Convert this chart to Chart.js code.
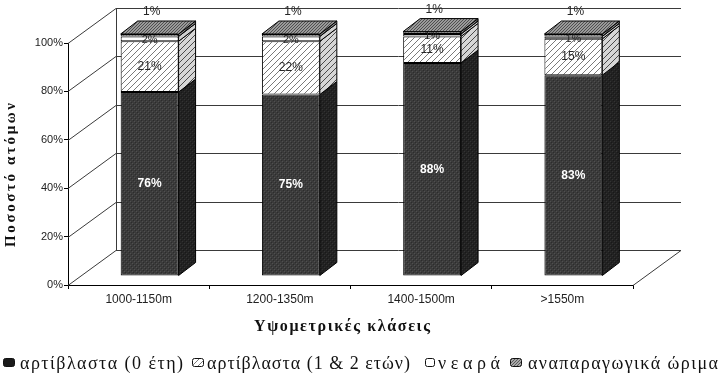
<!DOCTYPE html>
<html>
<head>
<meta charset="utf-8">
<script src="https://cdn.jsdelivr.net/npm/chart.js@4"></script>
<style>
  html, body { margin: 0; padding: 0; background: #fff; }
  #wrap { width: 718px; height: 377px; }
</style>
</head>
<body>
<div id="wrap"><canvas id="heightChart" width="718" height="377"></canvas></div>
<script>
const categories = ["1000-1150m", "1200-1350m", "1400-1500m", ">1550m"];
const seriesNames = ["αρτίβλαστα (0 έτη)", "αρτίβλαστα (1 & 2 ετών)", "νεαρά", "αναπαραγωγικά ώριμα"];
const seedlings0 = [76, 75, 88, 83];
const seedlings12 = [21, 22, 11, 15];
const young = [2, 2, 1, 1];
const mature = [1, 1, 1, 1];
const yTicks = [0, 20, 40, 60, 80, 100];
const xTitle = "Υψομετρικές κλάσεις";
const yTitle = "Ποσοστό ατόμων";

// small texture tiles so the bars look like the old print
function tile(w, h, draw) {
  const c = document.createElement("canvas");
  c.width = w; c.height = h;
  draw(c.getContext("2d"));
  return c.getContext("2d").createPattern(c, "repeat");
}
function darkTile(base, spot1, spot2) {
  return tile(4, 4, (g) => {
    g.fillStyle = base; g.fillRect(0, 0, 4, 4);
    g.fillStyle = spot1; g.fillRect(1, 0, 1, 1); g.fillRect(3, 2, 1, 1);
    g.fillStyle = spot2; g.fillRect(0, 3, 1, 1); g.fillRect(2, 1, 1, 1);
  });
}
function hatchTile(bg, line) {
  return tile(6, 6, (g) => {
    g.fillStyle = bg; g.fillRect(0, 0, 6, 6);
    g.strokeStyle = line; g.lineWidth = 1;
    g.beginPath();
    g.moveTo(0, 6); g.lineTo(6, 0);
    g.moveTo(-1, 1); g.lineTo(1, -1);
    g.moveTo(5, 7); g.lineTo(7, 5);
    g.stroke();
  });
}
function stippleTile(bg, dot) {
  return tile(3, 3, (g) => {
    g.fillStyle = bg; g.fillRect(0, 0, 3, 3);
    g.fillStyle = dot; g.fillRect(0, 0, 1, 1); g.fillRect(2, 1, 1, 1); g.fillRect(1, 2, 1, 1);
  });
}

const fronts = [darkTile("#3b3b3b", "#505050", "#2c2c2c"), hatchTile("#ffffff", "#7a7a7a"), "#ffffff", stippleTile("#a8a8a8", "#5a5a5a")];
const sides = [darkTile("#222222", "#333333", "#181818"), hatchTile("#d6d6d6", "#4a4a4a"), "#cfcfcf", stippleTile("#8a8a8a", "#3e3e3e")];
const topFace = stippleTile("#9a9a9a", "#4e4e4e");

const wall = { dx: 48, dy: -35 };     // back wall offset from the axis plane
const shift = { x: 11, y: -9 };       // bars stand a bit behind the axis plane
const bar3d = { x: 17, y: -13 };      // bar depth

// text stretched with letter spacing to the width it has in the print
function spacedText(ctx, text, x, y, width) {
  ctx.letterSpacing = "0px";
  const natural = ctx.measureText(text).width;
  const n = [...text].length;
  const sp = n > 1 ? Math.max(0, (width - natural) / (n - 1)) : 0;
  ctx.letterSpacing = sp.toFixed(2) + "px";
  ctx.fillText(text, x, y);
  ctx.letterSpacing = "0px";
}

// legend slots: marker left, text left, text width
const legendSlots = [[3, 20, 163], [192, 207, 203], [425, 438, 62], [510, 528, 190]];

const pseudo3d = {
  id: "pseudo3d",
  beforeDatasetsDraw(chart) {
    const { ctx, chartArea: a, scales: { y } } = chart;
    ctx.save();
    ctx.strokeStyle = "#3a3a3a";
    ctx.lineWidth = 1;
    yTicks.forEach((v) => {
      const py = Math.round(y.getPixelForValue(v)) + 0.5;
      ctx.beginPath();
      ctx.moveTo(a.left, py);
      ctx.lineTo(a.left + wall.dx, py + wall.dy);
      ctx.lineTo(a.right + wall.dx, py + wall.dy);
      ctx.stroke();
    });
    const y0 = Math.round(y.getPixelForValue(0)) + 0.5;
    const y100 = Math.round(y.getPixelForValue(100)) + 0.5;
    ctx.beginPath();
    ctx.moveTo(a.left + wall.dx + 0.5, y0 + wall.dy);
    ctx.lineTo(a.left + wall.dx + 0.5, y100 + wall.dy);
    ctx.moveTo(a.right, y0);
    ctx.lineTo(a.right + wall.dx, y0 + wall.dy);
    ctx.stroke();
    ctx.restore();

    ctx.save();
    ctx.translate(shift.x, shift.y);
  },
  afterDatasetsDraw(chart) {
    const { ctx } = chart;
    ctx.restore();
    ctx.save();
    ctx.translate(shift.x, shift.y);
    const last = chart.data.datasets.length - 1;
    chart.data.datasets.forEach((ds, di) => {
      chart.getDatasetMeta(di).data.forEach((el, i) => {
        const { x, y, base, width } = el.getProps(["x", "y", "base", "width"], true);
        const r = x + width / 2, l = x - width / 2;
        ctx.strokeStyle = "#000";
        ctx.lineWidth = 1;
        ctx.fillStyle = sides[di];
        ctx.beginPath();
        ctx.moveTo(r, base);
        ctx.lineTo(r, y);
        ctx.lineTo(r + bar3d.x, y + bar3d.y);
        ctx.lineTo(r + bar3d.x, base + bar3d.y);
        ctx.closePath();
        ctx.fill();
        ctx.stroke();
        if (di === last) {
          ctx.fillStyle = topFace;
          ctx.beginPath();
          ctx.moveTo(l, y);
          ctx.lineTo(l + bar3d.x, y + bar3d.y);
          ctx.lineTo(r + bar3d.x, y + bar3d.y);
          ctx.lineTo(r, y);
          ctx.closePath();
          ctx.fill();
          ctx.stroke();
        }
        const txt = ds.data[i] + "%";
        ctx.textAlign = "center";
        ctx.textBaseline = "middle";
        if (di === 0) {
          ctx.fillStyle = "#ffffff";
          ctx.font = "bold 12px 'Liberation Sans', Arial, sans-serif";
          ctx.fillText(txt, x, (y + base) / 2);
        } else if (di === 1) {
          ctx.fillStyle = "#262626";
          ctx.font = "12px 'Liberation Sans', Arial, sans-serif";
          ctx.fillText(txt, x, (y + base) / 2);
        } else if (di === 2) {
          ctx.fillStyle = "#262626";
          ctx.font = "11px 'Liberation Sans', Arial, sans-serif";
          ctx.fillText(txt, x, (y + base) / 2 + 1);
        } else {
          ctx.fillStyle = "#262626";
          ctx.font = "12px 'Liberation Sans', Arial, sans-serif";
          ctx.fillText(txt, x + 2, y - 22);
        }
      });
    });
    ctx.restore();
  },
  afterDraw(chart) {
    const { ctx } = chart;
    ctx.save();
    ctx.fillStyle = "#111";
    ctx.textAlign = "left";
    ctx.textBaseline = "middle";

    // axis titles
    ctx.font = "bold 16px 'Liberation Serif', 'Times New Roman', serif";
    spacedText(ctx, xTitle, 342 - 88, 327, 176);
    ctx.save();
    ctx.translate(11, 175);
    ctx.rotate(-Math.PI / 2);
    ctx.font = "bold 15px 'Liberation Serif', 'Times New Roman', serif";
    spacedText(ctx, yTitle, -72, 0, 144);
    ctx.restore();

    // legend
    chart.data.datasets.forEach((ds, i) => {
      const [mx, tx, tw] = legendSlots[i];
      ctx.fillStyle = i === 0 ? "#1a1a1a" : ds.backgroundColor;
      ctx.strokeStyle = "#111";
      ctx.lineWidth = 1;
      const w = i === 2 ? 9 : 11;
      ctx.beginPath();
      ctx.roundRect(mx + 0.5, 358.5, w, 8, 2);
      ctx.fill();
      ctx.stroke();
      ctx.fillStyle = "#111";
      ctx.font = "18px 'Liberation Serif', 'Times New Roman', serif";
      spacedText(ctx, ds.label, tx, 364, tw);
    });
    ctx.restore();
  },
};

const seriesValues = [seedlings0, seedlings12, young, mature];

new Chart(document.getElementById("heightChart"), {
  type: "bar",
  data: {
    labels: categories,
    datasets: seriesValues.map((vals, i) => ({
      label: seriesNames[i],
      data: vals,
      backgroundColor: fronts[i],
      borderColor: "#000",
      borderWidth: 1,
      borderSkipped: false,
      barPercentage: 0.41,
      categoryPercentage: 1,
      clip: false,
    })),
  },
  options: {
    responsive: false,
    animation: false,
    events: [],
    layout: { padding: { top: 43, right: 85, left: 0, bottom: 44 } },
    plugins: {
      tooltip: { enabled: false },
      legend: { display: false },
    },
    scales: {
      x: {
        stacked: true,
        grid: { display: true, drawOnChartArea: false, color: "#000", tickLength: 4 },
        border: { display: true, color: "#000", width: 1 },
        ticks: { color: "#222", font: { family: "'Liberation Sans', Arial, sans-serif", size: 12 }, padding: 3 },
        afterFit(scale) { scale.height = 48; },
      },
      y: {
        stacked: true,
        min: 0,
        max: 100,
        afterBuildTicks(scale) { scale.ticks = yTicks.map((v) => ({ value: v })); },
        grid: { display: true, drawOnChartArea: false, color: "#000", tickLength: 4 },
        border: { display: true, color: "#000", width: 1 },
        ticks: {
          color: "#222",
          padding: 1,
          font: { family: "'Liberation Sans', Arial, sans-serif", size: 11 },
          callback: (v) => v + "%",
        },
        afterFit(scale) { scale.width = 68; },
      },
    },
  },
  plugins: [pseudo3d],
});
</script>
</body>
</html>
